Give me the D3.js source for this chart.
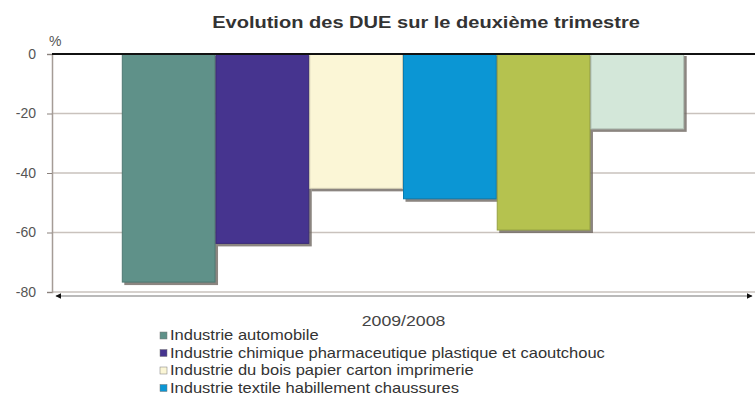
<!DOCTYPE html>
<html>
<head>
<meta charset="utf-8">
<script src="https://cdn.jsdelivr.net/npm/d3@7"></script>
<style>
  body { margin: 0; background: #fff; }
  text { font-family: "Liberation Sans", Arial, sans-serif; fill: #333; }
</style>
</head>
<body>
<div id="chart"></div>
<script>
// data
var groups = ["2009/2008"];
var series = ["s1", "s2", "s3", "s4", "s5", "s6"];
var values = [-77, -64, -45.5, -49, -59.5, -25.5];
var colors = ["#5f9189", "#46348f", "#fbf6d6", "#0b96d4", "#b5c24f", "#d3e7d9"];
var legendLabels = [
  "Industrie automobile",
  "Industrie chimique pharmaceutique plastique et caoutchouc",
  "Industrie du bois papier carton imprimerie",
  "Industrie textile habillement chaussures"
];
var yTicks = [0, -20, -40, -60, -80];

var width = 755, height = 401;
var margin = {left: 52, right: 0, top: 54, bottom: 109};
var stretch = 1.18; // the original text is a bit wide

var svg = d3.select("#chart").append("svg")
  .attr("width", width)
  .attr("height", height);

var y = d3.scaleLinear()
  .domain([0, -80])
  .range([margin.top, 292]);

var x0 = d3.scaleBand()
  .domain(groups)
  .range([margin.left, width - margin.right])
  .paddingInner(0.2).paddingOuter(0.1);

var x1 = d3.scaleBand()
  .domain(series)
  .range([0, x0.bandwidth()]);

function wideText(sel, tx, ty) {
  return sel.append("text")
    .attr("transform", "translate(" + tx + "," + ty + ") scale(" + stretch + ",1)");
}

// title
wideText(svg, 426, 28)
  .attr("text-anchor", "middle")
  .style("font-size", "17px").style("font-weight", "bold")
  .text("Evolution des DUE sur le deuxième trimestre");

// grid
svg.append("g").selectAll("line")
  .data(yTicks.slice(1))
  .enter().append("line")
    .attr("x1", margin.left).attr("x2", width)
    .attr("y1", function(d){ return y(d); })
    .attr("y2", function(d){ return y(d); })
    .attr("stroke", "#c9c2bd").attr("stroke-width", 1.5);

// y axis
var yAxis = svg.append("g")
  .attr("transform", "translate(" + margin.left + ",0)")
  .call(d3.axisLeft(y).tickValues(yTicks).tickSize(5).tickFormat(function(d){ return String(d); }));
yAxis.select(".domain").attr("stroke", "#a59c96").attr("stroke-width", 1.5);
yAxis.selectAll(".tick line").attr("stroke", "#8a817c");
yAxis.selectAll("text")
  .attr("x", -16)
  .style("font-size", "14px").style("fill", "#555")
  .style("font-family", "Liberation Sans, Arial, sans-serif");

svg.append("text")
  .attr("x", 49).attr("y", 46)
  .style("font-size", "14px").style("fill", "#555")
  .text("%");

// bars
var g = svg.append("g")
  .selectAll("g")
  .data(groups)
  .enter().append("g")
    .attr("transform", function(d){ return "translate(" + x0(d) + ",0)"; });

var bar = g.selectAll("g.bar")
  .data(values.map(function(v, i){ return {key: series[i], value: v, color: colors[i]}; }))
  .enter().append("g").attr("class", "bar");

// shadow
bar.append("rect")
  .attr("x", function(d){ return x1(d.key) + 2; })
  .attr("y", y(0) + 2)
  .attr("width", x1.bandwidth())
  .attr("height", function(d){ return y(d.value) - y(0); })
  .attr("fill", "#6e6660").attr("opacity", 0.8);

bar.append("rect")
  .attr("x", function(d){ return x1(d.key); })
  .attr("y", y(0))
  .attr("width", x1.bandwidth() - 1)
  .attr("height", function(d){ return y(d.value) - y(0) - 1; })
  .attr("fill", function(d){ return d.color; })
  .attr("stroke", function(d){ return d3.color(d.color).darker(0.5); })
  .attr("stroke-width", 1);

// zero line
svg.append("line")
  .attr("x1", margin.left).attr("x2", width)
  .attr("y1", y(0)).attr("y2", y(0))
  .attr("stroke", "#111").attr("stroke-width", 2);

// x axis with arrows
var defs = svg.append("defs");
defs.append("marker").attr("id", "arr")
  .attr("viewBox", "0 0 10 10").attr("refX", 9).attr("refY", 5)
  .attr("markerWidth", 5).attr("markerHeight", 5)
  .attr("orient", "auto-start-reverse")
  .append("path").attr("d", "M0,0L10,5L0,10Z").attr("fill", "#111");

svg.append("line")
  .attr("x1", 56).attr("x2", 752)
  .attr("y1", 296).attr("y2", 296)
  .attr("stroke", "#777").attr("stroke-width", 1.2)
  .attr("marker-start", "url(#arr)").attr("marker-end", "url(#arr)");

wideText(svg, x0(groups[0]) + x0.bandwidth() / 2, 326)
  .attr("text-anchor", "middle")
  .style("font-size", "15px").style("fill", "#444")
  .text(groups[0]);

// legend
var leg = svg.append("g")
  .selectAll("g")
  .data(legendLabels)
  .enter().append("g")
    .attr("transform", function(d, i){ return "translate(160," + (340 + i * 17.5) + ")"; });

leg.append("rect")
  .attr("x", 0).attr("y", -8)
  .attr("width", 7).attr("height", 7)
  .attr("fill", function(d, i){ return colors[i]; })
  .attr("stroke", "#777").attr("stroke-width", 0.5);

leg.each(function(d){
  wideText(d3.select(this), 10, 0)
    .style("font-size", "14px")
    .text(d);
});
</script>
</body>
</html>
